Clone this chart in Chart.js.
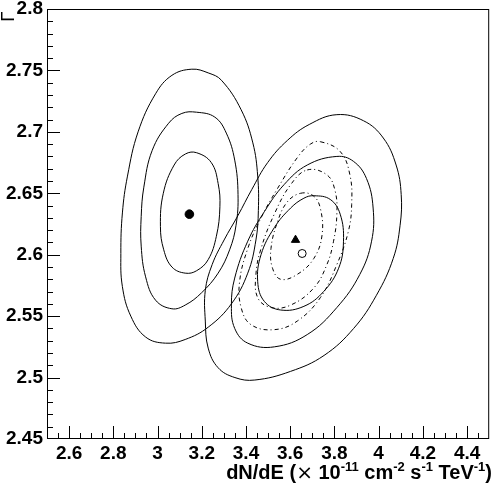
<!DOCTYPE html>
<html>
<head>
<meta charset="UTF-8">
<title>Contours</title>
<script src="https://cdn.jsdelivr.net/npm/chart.js"></script>
<style>
  html, body { margin: 0; padding: 0; background: #fff; }
  #wrap { width: 495px; height: 488px; }
</style>
</head>
<body>
<div id="wrap"><canvas id="c"></canvas></div>
<script>
// axis ranges and tick labels
const xRange = [2.5, 4.5];
const yRange = [2.45, 2.8];
const xTicks = [2.6, 2.8, 3, 3.2, 3.4, 3.6, 3.8, 4, 4.2, 4.4];
const yTicks = [2.45, 2.5, 2.55, 2.6, 2.65, 2.7, 2.75, 2.8];

// best fit points
const bestLeft = [[3.144, 2.633]];   // filled circle
const bestTri = [[3.624, 2.612]];    // triangle
const bestOpen = [[3.654, 2.601]];   // open circle

// contours, [x, y]
const left1 = [[3.177,2.683],[3.243,2.675],[3.274,2.658],[3.282,2.639],[3.266,2.615],[3.229,2.596],[3.177,2.587],[3.125,2.585],[3.065,2.590],[3.028,2.604],[3.013,2.623],[3.026,2.650],[3.075,2.673],[3.126,2.682]];
const left2 = [[3.176,2.716],[3.259,2.712],[3.311,2.699],[3.349,2.677],[3.364,2.649],[3.355,2.624],[3.326,2.604],[3.274,2.585],[3.199,2.569],[3.125,2.559],[3.065,2.556],[2.991,2.563],[2.946,2.582],[2.926,2.607],[2.926,2.631],[2.938,2.655],[2.976,2.685],[3.050,2.707],[3.110,2.715]];
const left3 = [[3.155,2.751],[3.229,2.748],[3.289,2.742],[3.378,2.718],[3.431,2.691],[3.453,2.664],[3.456,2.636],[3.445,2.612],[3.408,2.585],[3.334,2.560],[3.229,2.541],[3.125,2.531],[3.036,2.528],[2.946,2.533],[2.879,2.550],[2.841,2.574],[2.834,2.601],[2.841,2.634],[2.864,2.664],[2.912,2.700],[2.991,2.731],[3.065,2.746]];
const right1 = [[3.707,2.648],[3.781,2.645],[3.826,2.633],[3.841,2.611],[3.819,2.589],[3.751,2.570],[3.662,2.558],[3.557,2.555],[3.483,2.562],[3.453,2.578],[3.468,2.600],[3.528,2.622],[3.602,2.638],[3.662,2.646]];
const right2 = [[3.811,2.680],[3.886,2.676],[3.945,2.662],[3.975,2.638],[3.968,2.611],[3.915,2.584],[3.811,2.557],[3.677,2.535],[3.528,2.525],[3.408,2.528],[3.349,2.540],[3.334,2.559],[3.349,2.581],[3.408,2.611],[3.483,2.635],[3.572,2.657],[3.677,2.673]];
const right3 = [[3.811,2.714],[3.932,2.709],[4.021,2.695],[4.079,2.673],[4.102,2.649],[4.097,2.624],[4.066,2.597],[3.990,2.567],[3.887,2.540],[3.753,2.518],[3.601,2.505],[3.440,2.498],[3.350,2.500],[3.274,2.508],[3.229,2.524],[3.216,2.546],[3.216,2.571],[3.247,2.592],[3.301,2.612],[3.364,2.632],[3.426,2.653],[3.498,2.675],[3.587,2.693],[3.686,2.706]];
const dash1 = [[3.647,2.650],[3.704,2.648],[3.736,2.638],[3.744,2.616],[3.707,2.597],[3.632,2.584],[3.557,2.580],[3.520,2.589],[3.513,2.605],[3.543,2.627],[3.587,2.643]];
const dash2 = [[3.677,2.669],[3.766,2.665],[3.803,2.652],[3.811,2.633],[3.796,2.611],[3.766,2.592],[3.707,2.573],[3.602,2.559],[3.513,2.557],[3.453,2.565],[3.445,2.584],[3.468,2.605],[3.528,2.633],[3.602,2.657]];
const dash3 = [[3.736,2.692],[3.826,2.684],[3.870,2.665],[3.878,2.641],[3.863,2.619],[3.811,2.592],[3.736,2.565],[3.632,2.546],[3.528,2.539],[3.423,2.543],[3.378,2.557],[3.371,2.578],[3.408,2.605],[3.468,2.630],[3.543,2.654],[3.632,2.679],[3.691,2.690]];

const toXY = pts => pts.map(p => ({x: p[0], y: p[1]}));

// closed curve: wrap one point on each side so the spline has neighbours,
// and hide the two wrap segments
function contour(pts, dashed) {
  const data = toXY([pts[pts.length - 1], ...pts, pts[0], pts[1]]);
  const last = data.length - 1;
  return {
    data: data,
    showLine: true,
    tension: 0.4,
    borderColor: '#000',
    borderWidth: 1,
    borderDash: dashed ? [4, 3, 1, 3] : [],
    pointRadius: 0,
    pointHoverRadius: 0,
    fill: false,
    segment: {
      borderColor: c => (c.p0DataIndex === 0 || c.p1DataIndex === last) ? 'rgba(0,0,0,0)' : undefined
    }
  };
}

function marker(pts, style, radius, fillColor) {
  return {
    data: toXY(pts),
    showLine: false,
    pointStyle: style,
    pointRadius: radius,
    pointHoverRadius: radius,
    pointBackgroundColor: fillColor,
    pointBorderColor: '#000',
    pointBorderWidth: 1
  };
}

const labelFont = { family: 'Liberation Sans', weight: 'bold', size: 19 };

// ROOT style frame with inward ticks, axis titles
const rootFrame = {
  id: 'rootFrame',
  afterDatasetsDraw(chart) {
    const { ctx, chartArea: a, scales: { x, y } } = chart;
    ctx.save();
    ctx.strokeStyle = '#000';
    ctx.lineWidth = 1;
    ctx.strokeRect(a.left + 0.5, a.top + 0.5, a.right - a.left - 1, a.bottom - a.top - 1);
    ctx.beginPath();
    for (let i = 1; i < 40; i++) {
      const px = Math.round(x.getPixelForValue(xRange[0] + i * 0.05)) + 0.5;
      const len = (i - 2) % 4 === 0 ? 13 : 6;
      ctx.moveTo(px, a.bottom);
      ctx.lineTo(px, a.bottom - len);
    }
    for (let i = 1; i < 35; i++) {
      const py = Math.round(y.getPixelForValue(yRange[0] + i * 0.01)) + 0.5;
      const len = i % 5 === 0 ? 13 : 6;
      ctx.moveTo(a.left, py);
      ctx.lineTo(a.left + len, py);
    }
    ctx.stroke();
    ctx.restore();
  },
  afterDraw(chart) {
    const { ctx } = chart;
    ctx.save();
    ctx.fillStyle = '#000';
    ctx.textBaseline = 'alphabetic';
    // x title with superscripts, right aligned
    const big = 'bold 20px "Liberation Sans"';
    const sup = 'bold 13px "Liberation Sans"';
    const sym = '20px "DejaVu Sans"';
    const parts = [
      ['dN/dE (', big, 0], ['\u00d7', sym, 0], [' 10', big, 0], ['-11', sup, -8],
      [' cm', big, 0], ['-2', sup, -8], [' s', big, 0], ['-1', sup, -8],
      [' TeV', big, 0], ['-1', sup, -8], [')', big, 0]
    ];
    let w = 0;
    parts.forEach(p => { ctx.font = p[1]; w += ctx.measureText(p[0]).width; });
    let cx = 492 - w;
    const base = 479;
    parts.forEach(p => {
      ctx.font = p[1];
      ctx.fillText(p[0], cx, base + p[2]);
      cx += ctx.measureText(p[0]).width;
    });
    // y title, rotated
    ctx.translate(14, 22);
    ctx.rotate(-Math.PI / 2);
    ctx.font = '18px "DejaVu Sans"';
    ctx.fillText('\u0393', 0, 0);
    ctx.restore();
  }
};

new Chart(document.getElementById('c'), {
  type: 'scatter',
  data: {
    datasets: [
      contour(left1), contour(left2), contour(left3),
      contour(right1), contour(right2), contour(right3),
      contour(dash1, true), contour(dash2, true), contour(dash3, true),
      marker(bestLeft, 'circle', 4.3, '#000'),
      marker(bestTri, 'triangle', 4.8, '#000'),
      marker(bestOpen, 'circle', 4, '#fff')
    ]
  },
  options: {
    responsive: true,
    maintainAspectRatio: false,
    animation: false,
    events: [],
    layout: { padding: { top: 9, right: 1, left: 0, bottom: 0 } },
    plugins: { legend: { display: false }, tooltip: { enabled: false } },
    scales: {
      x: {
        type: 'linear', min: xRange[0], max: xRange[1],
        afterBuildTicks: s => { s.ticks = xTicks.map(v => ({ value: v })); },
        afterFit: s => { s.height = 49; s.paddingLeft = 0; s.paddingRight = 0; },
        grid: { display: false, drawTicks: false },
        border: { display: false },
        ticks: { font: labelFont, color: '#000', padding: 3, maxRotation: 0, autoSkip: false, callback: v => String(v) }
      },
      y: {
        type: 'linear', min: yRange[0], max: yRange[1],
        afterBuildTicks: s => { s.ticks = yTicks.map(v => ({ value: v })); },
        afterFit: s => { s.width = 47; s.paddingTop = 0; s.paddingBottom = 0; },
        grid: { display: false, drawTicks: false },
        border: { display: false },
        ticks: { font: labelFont, color: '#000', padding: 4, autoSkip: false, callback: v => String(v) }
      }
    }
  },
  plugins: [rootFrame]
});
</script>
</body>
</html>
